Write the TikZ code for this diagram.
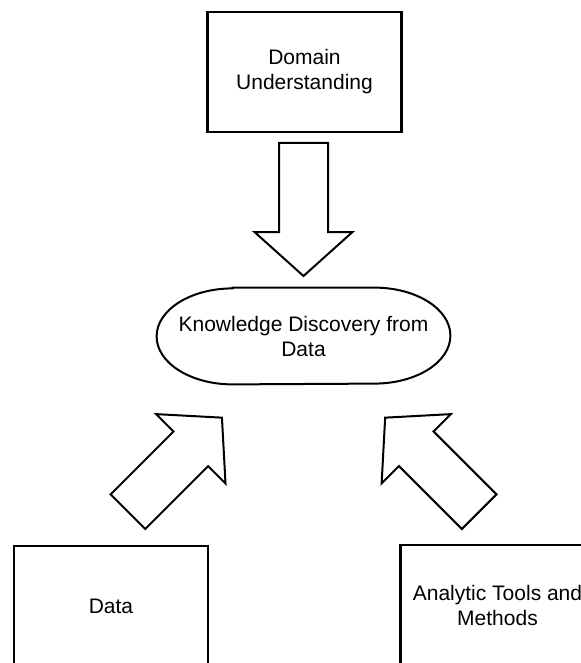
\documentclass[tikz,border=0pt]{standalone}
\usepackage{fontspec}
\setmainfont{Liberation Sans}
\usetikzlibrary{positioning}
\usetikzlibrary{calc}

\begin{document}
\begin{tikzpicture}[x=0.5pt,y=-0.5pt,
        txt/.style={align=center,font=\fontsize{10.5pt}{12.5pt}\selectfont},
        box/.style={txt,draw,line width=1.1pt,minimum width=97pt,minimum height=60pt},
        pics/bigarrow/.style={code={
            \draw[line width=1pt,line join=miter,fill=white] (0,-24.5) -- (89,-24.5) -- (89,-49) -- (133,0) -- (89,49) -- (89,24.5) -- (0,24.5) -- cycle;}}]
    \useasboundingbox (0,0) rectangle (581,663);
    \node[box] (dom) at (304.5,72) {Domain\\Understanding};
    \node[txt,minimum width=146.5pt,minimum height=48pt] (kdd) at (303.5,336) {Knowledge Discovery from\\Data};
    \draw[line width=1pt] ([xshift=38pt]kdd.north west) -- ([xshift=-38pt]kdd.north east)
        arc[start angle=90,end angle=-90,x radius=38pt,y radius=24pt]
        -- ([xshift=38pt]kdd.south west)
        arc[start angle=270,end angle=90,x radius=38pt,y radius=24pt] -- cycle;
    \node[box] (data) at (111,606) {Data};
    \node[box] (tools) at (497.5,605) {Analytic Tools and\\Methods};
    \coordinate (T1) at (303.5,143);
    \coordinate (T2) at (127.9,511.7);
    \coordinate (T3) at (479.2,511.7);
    \pic[rotate=-90] at (T1) {bigarrow};
    \pic[rotate=45] at (T2) {bigarrow};
    \pic[rotate=135] at (T3) {bigarrow};
\end{tikzpicture}
\end{document}
